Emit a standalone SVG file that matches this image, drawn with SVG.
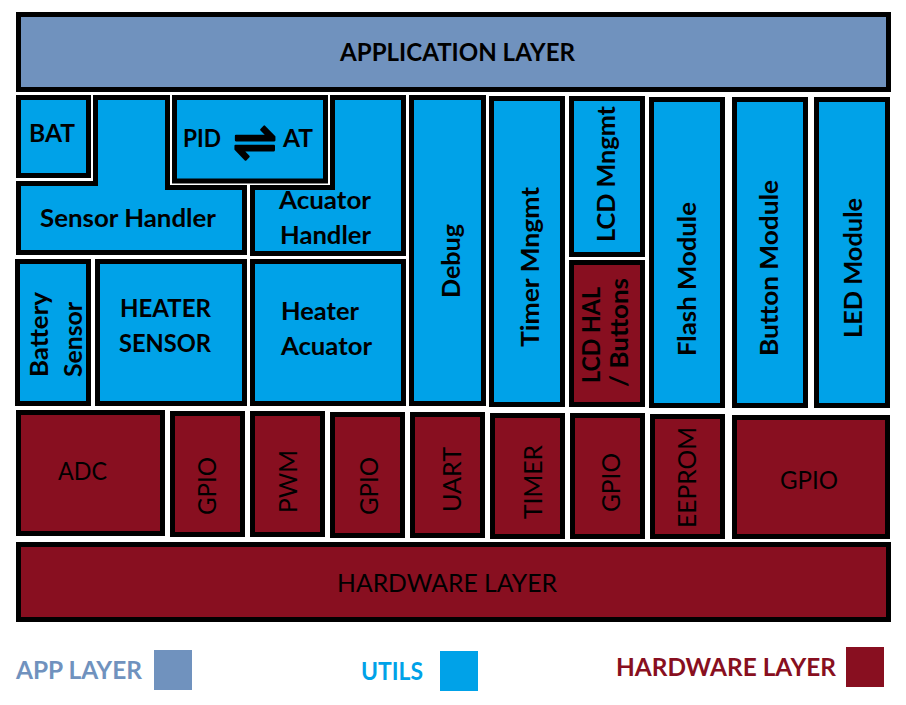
<svg xmlns="http://www.w3.org/2000/svg" width="906" height="705" viewBox="0 0 906 705">
<style>
.box{stroke:#000;stroke-width:5;stroke-linejoin:miter}
.app{fill:#7092be}
.util{fill:#00a2e8}
.hw{fill:#880f20}
.t{font-family:Lato,"Open Sans","DejaVu Sans",sans-serif;font-weight:700;font-size:25px;fill:#000}
.tr{font-family:Lato,"Open Sans","DejaVu Sans",sans-serif;font-weight:400;font-size:25px;fill:#000}
.lg{font-family:Lato,"Open Sans",sans-serif;font-weight:700;font-size:24px}
.sym{font-family:"DejaVu Sans",sans-serif;font-weight:400;font-size:54px;stroke:#000;stroke-width:2.2;stroke-linejoin:round;stroke-linecap:round}
</style>
<rect width="906" height="705" fill="#fff"/>

<g id="application-layer">
<rect class="box app" x="18.5" y="14.5" width="870" height="75"/>
<text class="t" x="340" y="61" textLength="235" lengthAdjust="spacingAndGlyphs">APPLICATION LAYER</text>
</g>

<g id="bat">
<rect class="box util" x="18.5" y="97.5" width="70" height="78"/>
<text class="t" x="29" y="142" textLength="46" lengthAdjust="spacingAndGlyphs">BAT</text>
</g>

<g id="sensor-handler">
<polygon class="box util" points="95.5,97.5 167.5,97.5 167.5,187.5 244.5,187.5 244.5,252.5 18.5,252.5 18.5,183.5 95.5,183.5"/>
<text class="t" x="40" y="227" textLength="176" lengthAdjust="spacingAndGlyphs">Sensor Handler</text>
</g>

<g id="pid-at">
<rect class="box util" x="174.5" y="97.5" width="151" height="83.5"/>
<text class="t" y="147"><tspan x="183" textLength="38" lengthAdjust="spacingAndGlyphs">PID</tspan><tspan class="sym" x="233" y="160" textLength="44" lengthAdjust="spacingAndGlyphs">⇌</tspan><tspan x="283" y="147" textLength="30" lengthAdjust="spacingAndGlyphs">AT</tspan></text>
</g>

<g id="acuator-handler">
<polygon class="box util" points="332.5,97.5 403.5,97.5 403.5,253.5 252.5,253.5 252.5,187.5 332.5,187.5"/>
<text class="t" x="279" y="209" textLength="92" lengthAdjust="spacingAndGlyphs">Acuator</text>
<text class="t" x="280" y="244" textLength="91" lengthAdjust="spacingAndGlyphs">Handler</text>
</g>

<g id="debug">
<rect class="box util" x="411.5" y="97.5" width="72" height="306"/>
<text class="t" text-anchor="middle" transform="translate(460,261) rotate(-90)" textLength="74" lengthAdjust="spacingAndGlyphs">Debug</text>
</g>

<g id="timer-mngmt">
<rect class="box util" x="491.5" y="98.5" width="71" height="306"/>
<text class="t" text-anchor="middle" transform="translate(539,267) rotate(-90)" textLength="160" lengthAdjust="spacingAndGlyphs">Timer Mngmt</text>
</g>

<g id="lcd-mngmt">
<rect class="box util" x="571.5" y="98.5" width="71" height="156"/>
<text class="t" text-anchor="middle" transform="translate(615,174) rotate(-90)" textLength="136" lengthAdjust="spacingAndGlyphs">LCD Mngmt</text>
</g>

<g id="lcd-hal-buttons">
<rect class="box hw" x="571.5" y="262.5" width="71" height="142"/>
<text class="t" text-anchor="middle" transform="translate(600,335) rotate(-90)" textLength="96" lengthAdjust="spacingAndGlyphs">LCD HAL</text>
<text class="t" text-anchor="middle" transform="translate(628,332.5) rotate(-90)" textLength="109" lengthAdjust="spacingAndGlyphs">/ Buttons</text>
</g>

<g id="flash-module">
<rect class="box util" x="651.5" y="99.5" width="71" height="306"/>
<text class="t" text-anchor="middle" transform="translate(696,279) rotate(-90)" textLength="154" lengthAdjust="spacingAndGlyphs">Flash Module</text>
</g>

<g id="button-module">
<rect class="box util" x="734.5" y="99.5" width="71" height="306"/>
<text class="t" text-anchor="middle" transform="translate(778,268) rotate(-90)" textLength="176" lengthAdjust="spacingAndGlyphs">Button Module</text>
</g>

<g id="led-module">
<rect class="box util" x="816.5" y="99.5" width="71" height="306"/>
<text class="t" text-anchor="middle" transform="translate(862,268) rotate(-90)" textLength="140" lengthAdjust="spacingAndGlyphs">LED Module</text>
</g>

<g id="battery-sensor">
<rect class="box util" x="17.5" y="261.5" width="71" height="142"/>
<text class="t" x="0" y="0" transform="translate(48,377) rotate(-90)" textLength="85" lengthAdjust="spacingAndGlyphs">Battery</text>
<text class="t" x="0" y="0" transform="translate(82,377) rotate(-90)" textLength="75" lengthAdjust="spacingAndGlyphs">Sensor</text>
</g>

<g id="heater-sensor">
<rect class="box util" x="97.5" y="261.5" width="147" height="142"/>
<text class="t" x="120" y="317" textLength="91" lengthAdjust="spacingAndGlyphs">HEATER</text>
<text class="t" x="119" y="352" textLength="92" lengthAdjust="spacingAndGlyphs">SENSOR</text>
</g>

<g id="heater-acuator">
<rect class="box util" x="252.5" y="261.5" width="151" height="142"/>
<text class="t" x="281" y="320" textLength="78" lengthAdjust="spacingAndGlyphs">Heater</text>
<text class="t" x="281" y="355" textLength="91" lengthAdjust="spacingAndGlyphs">Acuator</text>
</g>

<g id="adc">
<rect class="box hw" x="18.5" y="412.5" width="144" height="121"/>
<text class="tr" x="58" y="480" textLength="49" lengthAdjust="spacingAndGlyphs">ADC</text>
</g>

<g id="gpio-1">
<rect class="box hw" x="172.5" y="413.5" width="70" height="121"/>
<text class="tr" text-anchor="middle" transform="translate(216,486) rotate(-90)" textLength="58" lengthAdjust="spacingAndGlyphs">GPIO</text>
</g>

<g id="pwm">
<rect class="box hw" x="252.5" y="413.5" width="70" height="121"/>
<text class="tr" text-anchor="middle" transform="translate(297,481.5) rotate(-90)" textLength="63" lengthAdjust="spacingAndGlyphs">PWM</text>
</g>

<g id="gpio-2">
<rect class="box hw" x="332.5" y="414.5" width="70" height="121"/>
<text class="tr" text-anchor="middle" transform="translate(378,486) rotate(-90)" textLength="58" lengthAdjust="spacingAndGlyphs">GPIO</text>
</g>

<g id="uart">
<rect class="box hw" x="412.5" y="414.5" width="70" height="121"/>
<text class="tr" text-anchor="middle" transform="translate(461,479.5) rotate(-90)" textLength="65" lengthAdjust="spacingAndGlyphs">UART</text>
</g>

<g id="timer">
<rect class="box hw" x="492.5" y="415.5" width="70" height="121"/>
<text class="tr" text-anchor="middle" transform="translate(542,482) rotate(-90)" textLength="74" lengthAdjust="spacingAndGlyphs">TIMER</text>
</g>

<g id="gpio-3">
<rect class="box hw" x="572.5" y="415.5" width="70" height="121"/>
<text class="tr" text-anchor="middle" transform="translate(620,482.5) rotate(-90)" textLength="59" lengthAdjust="spacingAndGlyphs">GPIO</text>
</g>

<g id="eeprom">
<rect class="box hw" x="652.5" y="416.5" width="70" height="120"/>
<text class="tr" text-anchor="middle" transform="translate(696,477.5) rotate(-90)" textLength="101" lengthAdjust="spacingAndGlyphs">EEPROM</text>
</g>

<g id="gpio-4">
<rect class="box hw" x="734.5" y="417.5" width="153" height="119"/>
<text class="tr" x="780" y="489" textLength="58" lengthAdjust="spacingAndGlyphs">GPIO</text>
</g>

<g id="hardware-layer">
<rect class="box hw" x="18.5" y="544.5" width="870" height="75"/>
<text class="tr" x="337" y="592" font-size="26" textLength="220" lengthAdjust="spacingAndGlyphs">HARDWARE LAYER</text>
</g>

<g id="connectors"></g>

<g id="legend">
<text class="lg" x="16" y="679" fill="#7092be" textLength="126" lengthAdjust="spacingAndGlyphs">APP LAYER</text>
<rect x="154" y="650" width="38" height="40" fill="#7092be"/>
<text class="lg" x="361" y="680" fill="#00a2e8" textLength="62" lengthAdjust="spacingAndGlyphs">UTILS</text>
<rect x="440" y="651" width="38" height="40" fill="#00a2e8"/>
<text class="lg" x="616" y="676" fill="#880f20" textLength="220" lengthAdjust="spacingAndGlyphs">HARDWARE LAYER</text>
<rect x="846" y="647" width="38" height="40" fill="#880f20"/>
</g>
</svg>
